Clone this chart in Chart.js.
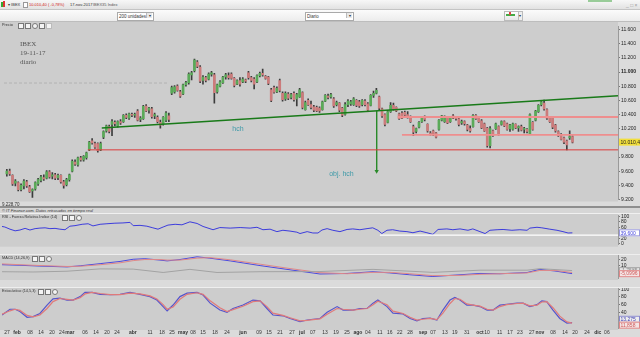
<!DOCTYPE html>
<html><head><meta charset="utf-8">
<script src="https://cdn.jsdelivr.net/npm/chart.js@4.4.1/dist/chart.umd.min.js"></script>
<style>
html,body{margin:0;padding:0;}
body{width:640px;height:337px;position:relative;overflow:hidden;background:#d2d2d2;font-family:"Liberation Sans",Arial,sans-serif;}
canvas{position:absolute;left:0;}
.a{position:absolute;white-space:nowrap;}
.ico{position:absolute;width:4px;height:4px;border:1px solid #777;background:#f4f4f4;}
.t5{font-size:5px;line-height:6px;color:#333;}
.pt{font-size:3.8px;line-height:6px;color:#333;}
</style></head><body>

<!-- title bar -->
<div class="a" style="left:0;top:0;width:640px;height:9px;background:linear-gradient(#f7f7f7,#e2e2e2);border-bottom:1px solid #c4c4c4;"></div>
<div class="a" style="left:1px;top:2px;width:2px;height:5px;background:#3a3;"></div>
<div class="a" style="left:3px;top:1px;width:2px;height:6px;background:#d33;"></div>
<div class="a t5" style="left:8px;top:2px;font-size:4px;">▾ IBEX</div>
<div class="a" style="left:23px;top:2px;width:3px;height:4px;border:1px solid #999;background:#fff;"></div>
<div class="a t5" style="left:29px;top:2px;color:#d02020;font-size:4px;">10.010,40 ( -0,78%)</div>
<div class="a t5" style="left:70px;top:2px;font-size:4px;">17-nov-2017</div>
<div class="a t5" style="left:93px;top:2px;color:#555;font-size:4px;">IBEX35 Index</div>
<div class="a" style="left:588px;top:0;width:24px;height:2px;background:#9c9;"></div>
<div class="a t5" style="left:626px;top:2px;color:#999;">_ □ ×</div>

<!-- toolbar -->
<div class="a" style="left:0;top:10px;width:640px;height:11px;background:linear-gradient(#fbfbfb,#ececec);border-bottom:1px solid #bdbdbd;"></div>
<div class="a t5" style="left:117px;top:12px;width:34px;height:7px;border:1px solid #aaa;background:#fff;line-height:7px;font-size:4.5px;padding-left:1px;">200 unidades</div>
<div class="a" style="left:146px;top:13px;width:5px;height:5px;background:#e8e8e8;border-left:1px solid #bbb;font-size:4px;line-height:5px;text-align:center;color:#333;">▾</div>
<div class="a t5" style="left:305px;top:12px;width:46px;height:7px;border:1px solid #aaa;background:#fff;line-height:7px;font-size:4.5px;padding-left:1px;">Diario</div>
<div class="a" style="left:346px;top:13px;width:5px;height:5px;background:#e8e8e8;border-left:1px solid #bbb;font-size:4px;line-height:5px;text-align:center;color:#333;">▾</div>
<div class="a" style="left:504px;top:11px;width:13px;height:8px;border:1px solid #bbb;background:linear-gradient(#fff,#e6e6e6);"></div>
<div class="a" style="left:506px;top:14px;width:9px;height:2px;background:#4a4;"></div>
<div class="a" style="left:509px;top:12px;width:2px;height:3px;background:#d44;"></div>
<div class="a" style="left:518px;top:11px;width:3px;height:8px;border:1px solid #bbb;background:#eee;font-size:4px;line-height:8px;color:#333;">▾</div>

<canvas id="cPrice" width="640" height="190" style="top:22px"></canvas>
<canvas id="cRsi" width="640" height="41" style="top:214px"></canvas>
<canvas id="cMacd" width="640" height="32" style="top:255px"></canvas>
<canvas id="cSto" width="640" height="49" style="top:288px"></canvas>

<!-- separators -->
<div class="a" style="left:0;top:206px;width:640px;height:2px;background:#8e8e8e;"></div>
<div class="a" style="left:0;top:208px;width:640px;height:5px;background:#d6d6d6;"></div>
<div class="a" style="left:0;top:213px;width:640px;height:1px;background:#f0f0f0;"></div>
<div class="a" style="left:0;top:254px;width:640px;height:1px;background:#eeeeee;"></div>
<div class="a" style="left:0;top:287px;width:640px;height:1px;background:#eeeeee;"></div>
<div class="a t5" style="left:2px;top:208px;font-style:italic;font-size:4px;line-height:5px;color:#333;">© IT Finance.com. Datos retrasados en tiempo real</div>

<!-- panel titles -->
<div class="a pt" style="left:2px;top:22px;">Precio</div>
<div class="ico" style="left:18px;top:23px;"></div><div class="ico" style="left:25px;top:23px;"></div><div class="ico" style="left:32px;top:23px;border-radius:3px;"></div><div class="ico" style="left:39px;top:23px;"></div><div class="ico" style="left:46px;top:23px;border-color:#bbb;"></div>
<div class="a pt" style="left:2px;top:214px;">RSI - Fuerza Relativa Índice (14)</div>
<div class="ico" style="left:62px;top:215px;"></div><div class="ico" style="left:69px;top:215px;"></div><div class="ico" style="left:76px;top:215px;border-radius:3px;"></div>
<div class="a pt" style="left:2px;top:255px;">MACD (14,26,9)</div>
<div class="ico" style="left:32px;top:256px;"></div><div class="ico" style="left:39px;top:256px;"></div><div class="ico" style="left:46px;top:256px;border-radius:3px;"></div>
<div class="a pt" style="left:2px;top:288px;">Estocástico (14,5,3)</div>
<div class="ico" style="left:38px;top:289px;"></div><div class="ico" style="left:45px;top:289px;"></div><div class="ico" style="left:52px;top:289px;border-radius:3px;"></div>

<!-- chart notes -->
<div class="a" style="left:20px;top:40px;font-family:'Liberation Serif',serif;font-size:7px;line-height:9px;color:#555;">IBEX<br>19-11-17<br>diario</div>
<div class="a t5" style="left:2px;top:202px;font-size:4.5px;">9.228,70</div>

<script>
// ---------- DATA ----------
const opens = [9560,9600,9540,9430,9440,9340,9390,9450,9380,9320,
 9350,9420,9470,9510,9500,9590,9530,9550,9510,9540,
 9450,9410,9480,9600,9730,9690,9790,9760,9790,9900,
 10030,9990,9990,9900,10080,10170,10230,10260,10290,10240,
 10300,10300,10390,10350,10400,10390,10450,10330,10340,10520,
 10460,10480,10380,10360,10290,10270,10320,10380,10700,10720,
 10800,10720,10690,10820,10850,10960,11020,11140,11070,10880,
 10920,10900,10970,10960,10720,10800,10850,10930,10950,10970,
 10910,10830,10880,10860,10890,10990,10920,10900,10860,10950,
 10980,10940,10930,10750,10780,10720,10880,10700,10620,10690,
 10640,10700,10620,10650,10710,10470,10600,10540,10510,10500,
 10490,10470,10590,10660,10650,10620,10540,10560,10490,10400,
 10540,10550,10540,10600,10580,10540,10590,10550,10530,10670,
 10700,10650,10480,10400,10290,10440,10530,10500,10410,10420,
 10430,10400,10360,10230,10160,10220,10300,10360,10260,10130,
 10170,10140,10190,10320,10300,10350,10300,10380,10350,10340,
 10280,10300,10250,10200,10230,10390,10350,10310,10270,10210,
 9960,10170,10200,10230,10260,10300,10270,10200,10190,10260,
 10210,10230,10190,10190,10130,10290,10320,10440,10540,10560,
 10470,10360,10360,10250,10160,10120,10070,10030,10070,10090];
const highs = [9625,9630,9550,9480,9450,9420,9480,9470,9400,9350,
 9450,9500,9540,9550,9610,9610,9580,9570,9560,9550,
 9470,9500,9560,9760,9760,9800,9810,9820,9870,10020,
 10060,10010,10000,10010,10170,10250,10250,10330,10310,10310,
 10330,10400,10410,10420,10420,10420,10470,10370,10530,10540,
 10500,10500,10420,10380,10320,10370,10440,10420,10800,10810,
 10820,10740,10830,10870,10990,11010,11184,11160,11090,10950,
 10940,10990,11010,10980,10830,10880,10940,10980,10990,10990,
 10920,10890,10920,10920,10900,11010,10940,10920,10960,11000,
 11040,10950,10940,10770,10800,10790,10900,10720,10720,10710,
 10700,10720,10700,10770,10720,10590,10620,10590,10530,10520,
 10510,10590,10680,10690,10700,10640,10590,10570,10500,10570,
 10610,10600,10640,10610,10600,10610,10610,10570,10680,10730,
 10770,10660,10490,10410,10460,10570,10560,10510,10420,10440,
 10450,10440,10380,10250,10210,10300,10370,10380,10270,10160,
 10180,10150,10330,10390,10380,10360,10370,10400,10370,10350,
 10320,10310,10260,10240,10400,10400,10370,10330,10280,10220,
 10230,10180,10280,10240,10310,10310,10280,10260,10280,10270,
 10240,10250,10220,10200,10410,10300,10460,10540,10590,10605,
 10480,10370,10370,10260,10170,10130,10080,10040,10170,10100];
const lows = [9530,9540,9400,9390,9320,9320,9350,9370,9300,9229,
 9330,9400,9450,9470,9490,9500,9490,9480,9480,9430,
 9360,9390,9460,9590,9680,9670,9740,9740,9770,9890,
 9980,9920,9870,9890,10060,10150,10140,10100,10240,10220,
 10260,10290,10340,10330,10370,10360,10310,10300,10330,10440,
 10420,10350,10340,10280,10208,10250,10300,10300,10680,10700,
 10730,10640,10680,10800,10830,10890,11000,11060,10850,10830,
 10860,10890,10940,10560,10700,10790,10840,10900,10900,10900,
 10790,10820,10800,10850,10850,10900,10860,10760,10850,10930,
 10940,10900,10820,10580,10700,10710,10720,10590,10600,10610,
 10620,10590,10520,10640,10480,10460,10530,10480,10440,10440,
 10430,10460,10580,10620,10630,10500,10520,10440,10370,10390,
 10510,10530,10530,10510,10500,10520,10520,10440,10520,10640,
 10690,10470,10360,10240,10280,10430,10460,10440,10330,10340,
 10370,10350,10290,10100,10140,10210,10290,10310,10150,10110,
 10100,10070,10180,10310,10290,10270,10290,10340,10320,10240,
 10260,10250,10170,10150,10220,10330,10290,10200,10160,9940,
 9930,10090,10190,10110,10250,10230,10180,10160,10180,10200,
 10160,10170,10140,10140,10120,10180,10310,10430,10520,10460,
 10330,10290,10200,10150,10090,10040,9990,9901,10050,10000];
const closes = [9600,9560,9420,9460,9340,9400,9460,9390,9310,9340,
 9440,9480,9520,9490,9590,9520,9550,9500,9540,9450,
 9400,9480,9550,9740,9700,9790,9760,9810,9860,10010,
 10000,9940,9890,9990,10160,10240,10160,10300,10270,10300,
 10280,10390,10360,10410,10390,10400,10320,10350,10515,10450,
 10490,10370,10400,10300,10250,10360,10420,10330,10780,10790,
 10740,10660,10820,10850,10970,10990,11170,11080,10870,10930,
 10880,10970,10990,10710,10820,10860,10930,10960,10920,10910,
 10810,10880,10830,10900,10870,10920,10880,10830,10950,10980,
 10960,10910,10840,10600,10715,10770,10740,10610,10700,10630,
 10680,10610,10680,10750,10500,10570,10540,10500,10460,10450,
 10450,10580,10670,10640,10680,10520,10570,10460,10390,10540,
 10590,10580,10620,10530,10520,10600,10540,10460,10670,10700,
 10740,10490,10380,10260,10440,10530,10480,10450,10340,10350,
 10390,10370,10300,10150,10200,10290,10360,10330,10170,10125,
 10115,10080,10320,10380,10360,10280,10360,10350,10340,10260,
 10300,10270,10190,10170,10390,10340,10300,10210,10170,9960,
 10200,10100,10270,10130,10300,10240,10190,10250,10270,10210,
 10230,10180,10200,10160,10400,10190,10450,10530,10580,10480,
 10350,10300,10220,10170,10100,10050,10010,9970,10090,10010.4];

// x axis tick labels (positions in bar units)
const xTickPos = [0.75,4.3,8.8,12.7,16.5,20,22.8,28.1,32,35.8,39.3,44.9,50.9,55.1,58.6,62.5,66,69.5,73.7,77.9,83.5,89.1,92.6,96.5,100.7,104.2,108,112.3,116.1,120,123.8,127.3,131.5,135,138.5,142.1,146.6,150.1,154.3,157.8,162,166.6,169.1,173.5,177.1,180.6,184.8,187.6,192.2,196.4,199.9,204.1,207.9,211.1];
const xTickLabels = ["27","feb","08","14","20","24","mar","06","14","20","24","abr","11","18","25","may","08","15","18","24","jun","09","15","21","27","jul","07","13","19","25","ago","04","11","16","22","28","sep","07","13","19","31","oct","10","11","17","23","27","nov","08","14","20","24","dic","06"];
const monthNames = ["feb","mar","abr","may","jun","jul","ago","sep","oct","nov","dic"];

const priceTicks = [9200,9400,9600,9800,10200,10400,10600,10800,11000,11200,11400,11600];
const oscTicks = [0,20,40,60,80,100];
const macdTicks = [10,20];
const stoTicks = [20,40,60,80,100];

// drawn studies (data coordinates)
const trendLine = [{x:33.4,y:10210},{x:215,y:10665}];
const supportRed = [{x:28.5,y:9901},{x:215,y:9901}];
const rangeTop = [{x:137.5,y:10365},{x:215,y:10365}];
const rangeMid = [{x:139,y:10112},{x:215,y:10112}];
const targetArrow = [{x:130.1,y:10451},{x:130.1,y:9600}];
const oldLevel = [{x:-1,y:10845},{x:57,y:10845}];
const rsiLevel = [{x:131.5,y:31},{x:215,y:31}];

// RSI (14)
const rsiIdx = [-1,0,1.8,3.6,5.3,7.1,8.8,10.6,12.3,14.1,15.8,17.6,19.3,21.1,22.8,24.6,27.1,29.2,30.9,33.4,35.8,38.6,41.4,43.9,45,47.4,49.8,51.9,53.7,55.5,57.2,59.7,62.1,64.9,67.4,69.5,73,75.4,79,82.5,86,88.4,90.5,93,95.4,97.5,100,102.4,103.5,106,108,109.8,111.2,113,115,117.5,120,122,124.5,127,129,130.8,132.2,134,136,138.5,141,143.1,145.6,148,150.1,151.9,155,157.1,159.6,162.4,164.1,166.6,168.4,170.1,172.6,174.7,177.8,180.6,183.1,184.1,186.6,188.3,191.1,193.6,195.7,197.5,199];
const rsiVal = [63,61,53,47,50,56,50,55,57,58,55,56,53,51,64,66,71,73,65,71,73,75,76,78,66,67,64,58,53,61,68,71,69,80,74,63,51,59,57,59,57,60,51,53,44,49,46,42,37,44,39,39,50,55,49,44,52,54,51,55,58,49,37,49,51,46,44,40,46,40,34,52,54,51,54,49,54,44,37,49,51,52,49,51,49,57,60,58,53,49,44,39,39.6];

// MACD (14,26,9)
const macdIdx = [-1,5.3,12.3,21.8,26.4,33.4,40.4,45,49.1,54.4,56.9,61.4,67.4,71.9,79,89.5,100,110.5,120,129.1,135,142,150.1,159.6,166.6,173.6,183.1,187.6,192.9,198.9];
const macdBlue = [11,10,8.5,7,9,13,17,21,22,19.5,18,20.5,25.5,23,18,9.4,1.7,-6,-5,-1.8,-4,-7.4,-10.6,-7.4,-5,-5.5,-3.3,2.5,-0.5,-5.3];
const macdPink = [12.5,11,9.5,7.8,8.2,11,14.5,18.5,20.5,20.5,19.5,19.5,23,24,20,12,4,-3.5,-5.5,-3,-3,-5.5,-9,-8.5,-6.5,-5.5,-4,0.5,0.5,-3.2];
const grayIdx = [-1,9.9,21.8,33.4,45,55.5,64.9,74.4,89.5,110.5,129.1,150.1,166.6,183.1,187.6,198.9];
const grayVal = [-1.8,-2.3,-0.9,3.4,3,-3.2,2.5,-3.2,-1.8,-1.5,2.5,-3,1,1,3.8,0.3];

// Estocástico (14,5,3)
const stoIdx = [-1,1.8,3.6,5.3,7.8,9.9,12.3,14.8,16.9,19.3,21.8,23.9,26.4,28.1,30.6,33.4,36.9,40.4,43.9,47.4,50.9,53.3,55.5,56.9,59,61.4,63.9,67.4,69.5,72,75.4,77.9,80,83.5,87,89.5,91.9,94,97.5,100,103.5,106,108.1,110.5,113,116.5,118.6,122.1,124.5,127,129.1,130.8,134,136.1,139.6,142.1,144.5,146.6,149.1,151.5,153.6,156.1,157.8,159.6,162,164.2,166.6,169.1,171.2,173.6,176,179.6,181.7,184.1,186.6,188.3,190,192.2,194.6,197.1,198.9];
const stoK = [33,48,48,42,27,29,37,59,75,77,72,72,81,92,92,87,86,87,92,87,81,72,55,44,59,81,90,92,85,64,46,40,50,59,72,70,50,33,31,24,16,20,22,24,40,55,46,46,50,50,64,72,55,38,36,24,18,24,25,20,46,72,79,72,59,59,55,46,46,59,61,64,64,55,60,70,68,46,24,12,13.3];
const stoD = [35,44,48,45,32,28,33,50,68,76,74,72,78,88,92,89,86,86,90,88,83,75,60,48,54,74,87,91,87,70,52,42,47,56,68,70,55,38,32,26,18,19,21,23,35,50,48,46,48,50,60,69,60,43,37,27,20,22,24,21,38,63,76,74,62,59,56,48,46,55,60,63,64,57,59,67,68,52,30,15,11.9];

// ---------- STYLE ----------
const PANEL_BG = '#cdcdcd', AXIS_BG = '#dbdbdb';
const UP = '#5aaa58', DOWN = '#cc7b7b', WICK = '#3c3c3c';
const X_MIN = -1, X_MAX = 215;

const pairs = (xs, ys) => xs.map((x, i) => ({x, y: ys[i]}));
const fmtK = v => { const s = String(Math.round(v)); return s.length > 3 ? s.slice(0, -3) + '.' + s.slice(-3) : s; };

const bgPlugin = {
  id: 'bg',
  beforeDraw(chart) {
    const {ctx, chartArea: a, width, height} = chart;
    ctx.save();
    ctx.fillStyle = AXIS_BG; ctx.fillRect(0, 0, width, height);
    ctx.fillStyle = PANEL_BG; ctx.fillRect(0, 0, a.right, a.bottom + 2);
    ctx.restore();
  }
};
const boxPlugin = {
  id: 'boxes',
  afterDraw(chart, args, opts) {
    const y = chart.scales.y, ctx = chart.ctx;
    ctx.save();
    (opts.items || []).forEach(b => {
      const py = y.getPixelForValue(b.v);
      ctx.fillStyle = b.bg; ctx.fillRect(619, py - 3.5, 21, 7);
      if (b.bd) { ctx.strokeStyle = b.bd; ctx.lineWidth = 1; ctx.strokeRect(619.5, py - 3, 20, 6); }
      ctx.fillStyle = b.fg; ctx.font = '5px "Liberation Sans"';
      ctx.textBaseline = 'middle'; ctx.textAlign = 'left';
      ctx.fillText(b.text, 620.5, py + 0.3);
    });
    (opts.notes || []).forEach(n => {
      ctx.fillStyle = n.color; ctx.font = n.font; ctx.textBaseline = 'middle'; ctx.textAlign = 'left';
      ctx.fillText(n.text, chart.scales.x.getPixelForValue(n.x), y.getPixelForValue(n.v));
    });
    ctx.restore();
  }
};

function xScale(show) {
  return {
    type: 'linear', min: X_MIN, max: X_MAX, offset: false, display: show,
    grid: {display: false, drawTicks: false}, border: {display: false},
    ticks: {
      autoSkip: false, maxRotation: 0, minRotation: 0, padding: 2, color: '#333',
      font: c => ({size: 5, family: '"Liberation Sans"', weight: monthNames.includes(xTickLabels[c.index]) ? 'bold' : 'normal'}),
      callback: (v) => { const k = xTickPos.indexOf(v); return k >= 0 ? xTickLabels[k] : ''; }
    },
    afterBuildTicks: ax => { ax.ticks = xTickPos.map(v => ({value: v})); },
    afterFit: ax => { ax.height = 9; ax.paddingLeft = 0; ax.paddingRight = 0; }
  };
}
function yScale(min, max, ticks, fmt, boldVal) {
  return {
    type: 'linear', position: 'right', min, max,
    grid: {drawOnChartArea: false, drawTicks: true, tickLength: 2, color: '#777'},
    border: {display: true, color: '#9a9a9a'},
    ticks: {
      autoSkip: false, padding: 1, color: '#222',
      font: c => ({size: 5, family: '"Liberation Sans"', weight: (c.tick && c.tick.value === boldVal) ? 'bold' : 'normal'}),
      callback: fmt
    },
    afterBuildTicks: ax => { ax.ticks = ticks.map(v => ({value: v})); },
    afterFit: ax => { ax.width = 22; ax.paddingTop = 0; ax.paddingBottom = 0; }
  };
}
const base = (pad, boxes, notes) => ({
  responsive: false, animation: false, events: [], devicePixelRatio: 1,
  layout: {padding: Object.assign({left: 2, right: 0, top: 0, bottom: 0}, pad)},
  plugins: {legend: {display: false}, tooltip: {enabled: false}, boxes: {items: boxes, notes: notes || []}}
});
const line = (data, color, width, extra) => Object.assign({
  type: 'line', data, borderColor: color, borderWidth: width, pointRadius: 0, tension: 0, fill: false, order: 0
}, extra || {});

// ---------- PRICE ----------
const idx = closes.map((_, i) => i);
new Chart(document.getElementById('cPrice'), {
  type: 'bar',
  data: {datasets: [
    line(oldLevel, 'rgba(160,160,160,0.6)', 1, {borderDash: [3, 2]}),
    line(supportRed, '#dc3a3a', 1),
    line(rangeTop, '#ee8e8e', 1.8),
    line(rangeMid, '#ee8e8e', 1.8),
    line(trendLine, '#197a19', 1.6),
    line(targetArrow, '#2a8a2a', 1, {pointRadius: [0, 2.5], pointStyle: 'triangle', pointRotation: 180, pointBackgroundColor: '#2a8a2a', pointBorderWidth: 0}),
    {type: 'bar', order: 1, grouped: false, barThickness: 2, minBarLength: 1,
     data: idx.map(i => ({x: i, y: [opens[i], closes[i]]})),
     backgroundColor: c => closes[c.dataIndex] >= opens[c.dataIndex] ? UP : DOWN},
    {type: 'bar', order: 2, grouped: false, barThickness: 1,
     data: idx.map(i => ({x: i, y: [lows[i], highs[i]]})), backgroundColor: WICK}
  ]},
  options: Object.assign(base({bottom: 3.5},
    [{v: 10010.4, text: '10.010,40', bg: '#f2df3c', fg: '#222'}],
    [{x: 79.3, v: 10190, text: 'hch', color: '#3f9aa8', font: '7px "Liberation Sans"'},
     {x: 113.4, v: 9560, text: 'obj. hch', color: '#3f9aa8', font: '7px "Liberation Sans"'}]), {
    scales: {x: xScale(false), y: yScale(9200, 11650, priceTicks, v => fmtK(v), 11000)}
  }),
  plugins: [bgPlugin, boxPlugin]
});

// ---------- RSI ----------
new Chart(document.getElementById('cRsi'), {
  type: 'line',
  data: {datasets: [
    line(rsiLevel, '#ffffff', 1.2),
    line(pairs(rsiIdx, rsiVal), '#3c3cdc', 1)
  ]},
  options: Object.assign(base({top: 1.3, bottom: 1.3},
    [{v: 39.6, text: '39,600', bg: '#ffffff', fg: '#3c3cdc', bd: '#9999dd'}]), {
    scales: {x: xScale(false), y: yScale(-4, 104, oscTicks, v => String(v))}
  }),
  plugins: [bgPlugin, boxPlugin]
});

// ---------- MACD ----------
new Chart(document.getElementById('cMacd'), {
  type: 'line',
  data: {datasets: [
    line(pairs(grayIdx, grayVal), '#a3a3a3', 1),
    line(pairs(macdIdx, macdPink), '#e08888', 1),
    line(pairs(macdIdx, macdBlue), '#4a4ae0', 1)
  ]},
  options: Object.assign(base({},
    [{v: 0.3, text: '-1,7585', bg: '#e4e4e4', fg: '#888', bd: '#aaaaaa'},
     {v: -5.4, text: '-5,0996', bg: '#f4e4e4', fg: '#d05a5a', bd: '#e08888'}]), {
    scales: {x: xScale(false), y: yScale(-13.3, 28.8, macdTicks, v => String(v))}
  }),
  plugins: [bgPlugin, boxPlugin]
});

// ---------- ESTOCÁSTICO ----------
new Chart(document.getElementById('cSto'), {
  type: 'line',
  data: {datasets: [
    line(pairs(stoIdx, stoD), '#e07a7a', 1.2),
    line(pairs(stoIdx, stoK), '#5555cc', 1.2)
  ]},
  options: Object.assign(base({},
    [{v: 22, text: '13,275', bg: '#eeeeee', fg: '#3c3cb0', bd: '#8888cc'},
     {v: 6.5, text: '11,858', bg: '#f4e4e4', fg: '#d05a5a', bd: '#e08888'}]), {
    scales: {x: xScale(true), y: yScale(-0.8, 103.4, stoTicks, v => String(v))}
  }),
  plugins: [bgPlugin, boxPlugin]
});
</script>
</body></html>
